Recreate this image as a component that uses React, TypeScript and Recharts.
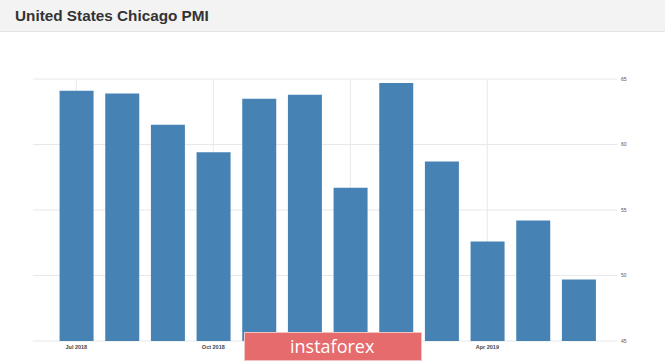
import React from 'react';
import { BarChart, Bar, XAxis, YAxis, CartesianGrid } from 'recharts';

const months = ['Jul 2018', 'Aug 2018', 'Sep 2018', 'Oct 2018', 'Nov 2018', 'Dec 2018', 'Jan 2019', 'Feb 2019', 'Mar 2019', 'Apr 2019', 'May 2019', 'Jun 2019'];
const pmiValues = [64.1, 63.9, 61.5, 59.4, 63.5, 63.8, 56.7, 64.7, 58.7, 52.6, 54.2, 49.7];
const yTicks = [45, 50, 55, 60, 65];
const hiddenLabel = 'Jan 2019'; // covered by the watermark in the reference
const title = 'United States Chicago PMI';
const watermark = 'instaforex';

const data = months.map((m, i) => ({ month: m, value: pmiValues[i] }));

export default function App() {
  return (
    <div style={{ position: 'absolute', left: 0, top: 0, width: 665, height: 363, background: '#ffffff', overflow: 'hidden' }}>
      <div
        style={{
          position: 'absolute',
          left: 0,
          top: 0,
          width: 665,
          height: 31,
          background: '#f3f3f3',
          borderBottom: '1px solid #e4e4e4',
        }}
      >
        <div
          style={{
            position: 'absolute',
            left: 15,
            top: 7,
            fontFamily: '"Liberation Sans", Arial, sans-serif',
            fontWeight: 'bold',
            fontSize: 15.3,
            color: '#333333',
            whiteSpace: 'nowrap',
          }}
        >
          {title}
        </div>
      </div>
      <div style={{ position: 'absolute', left: 0, top: 0 }}>
        <BarChart
          width={665}
          height={363}
          data={data}
          margin={{ top: 79, right: 18, bottom: 8, left: 33 }}
          barCategoryGap="13.3%"
        >
          <CartesianGrid stroke="#e8e8e8" syncWithTicks />
          <XAxis
            dataKey="month"
            interval={2}
            height={14}
            padding={{ left: 20.5, right: 15.5 }}
            axisLine={false}
            tickLine={false}
            tickSize={2}
            tickMargin={2.5}
            tickFormatter={(v: string) => (v === hiddenLabel ? '' : v)}
            tick={{ fontSize: 5.5, fontWeight: 'bold', fill: '#444444', fontFamily: '"Liberation Sans", Arial, sans-serif' }}
          />
          <YAxis
            orientation="right"
            width={30}
            domain={[45, 65]}
            ticks={yTicks}
            axisLine={false}
            tickLine={false}
            tickSize={2}
            tickMargin={2}
            tick={{ fontSize: 5, fill: '#555555', fontFamily: '"Liberation Sans", Arial, sans-serif', textAnchor: 'start' }}
          />
          <Bar dataKey="value" fill="#4682b4" isAnimationActive={false} />
        </BarChart>
      </div>
      <div
        style={{
          position: 'absolute',
          left: 244,
          top: 332,
          width: 178,
          height: 29,
          background: '#e56b6d',
          border: '1px solid #f3c4c4',
          boxSizing: 'border-box',
        }}
      >
        <div
          style={{
            position: 'absolute',
            left: 45,
            top: 1,
            fontFamily: '"Open Sans", sans-serif',
            fontSize: 18,
            color: '#ffffff',
            whiteSpace: 'nowrap',
            lineHeight: '25px',
          }}
        >
          {watermark}
        </div>
      </div>
    </div>
  );
}
